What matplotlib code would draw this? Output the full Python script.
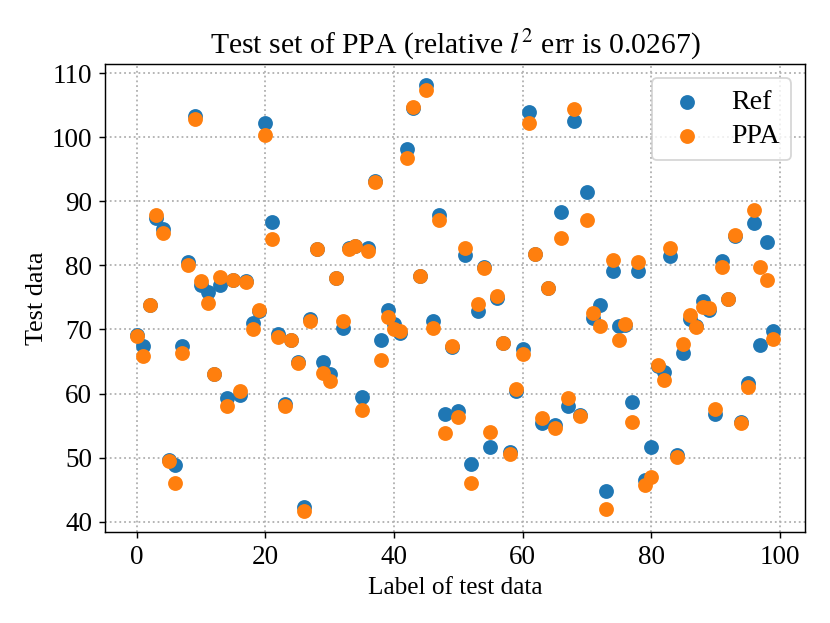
import numpy as np
import matplotlib
matplotlib.use("Agg")
import matplotlib.pyplot as plt

ref = [69.2, 67.4, 73.8, 87.4, 85.7, 49.6, 48.9, 67.4, 80.6, 103.4,
       77.0, 75.9, 63.0, 76.9, 59.3, 77.8, 59.8, 77.6, 71.0, 72.9,
       102.2, 86.8, 69.3, 58.3, 68.4, 64.9, 42.3, 71.6, 82.6, 65.0,
       63.1, 78.0, 70.3, 82.7, 83.0, 59.4, 82.7, 93.2, 68.4, 73.0,
       70.8, 69.5, 98.2, 104.5, 78.4, 108.1, 71.3, 87.9, 56.8, 67.2,
       57.2, 81.7, 49.0, 72.9, 79.7, 51.6, 74.9, 67.9, 50.9, 60.4,
       66.9, 104.0, 81.8, 55.4, 76.4, 55.1, 88.4, 58.0, 102.6, 56.7,
       91.4, 71.8, 73.8, 44.8, 79.2, 70.5, 70.7, 58.7, 79.1, 46.5,
       51.7, 64.3, 63.3, 81.4, 50.4, 66.3, 71.7, 70.5, 74.5, 73.1,
       56.8, 80.7, 74.7, 84.6, 55.6, 61.6, 86.6, 67.6, 83.6, 69.8]
ppa = [69.0, 65.8, 73.8, 87.9, 85.0, 49.4, 46.0, 66.4, 80.0, 102.9,
       77.5, 74.1, 63.1, 78.2, 58.1, 77.8, 60.4, 77.4, 70.0, 73.1,
       100.4, 84.2, 68.8, 58.0, 68.3, 64.8, 41.7, 71.4, 82.6, 63.2,
       61.9, 78.0, 71.4, 82.6, 83.0, 57.5, 82.3, 93.1, 65.2, 71.9,
       70.0, 69.7, 96.7, 104.8, 78.4, 107.4, 70.2, 87.1, 53.8, 67.5,
       56.3, 82.8, 46.1, 74.0, 79.6, 54.0, 75.2, 67.9, 50.5, 60.7,
       66.2, 102.3, 81.8, 56.2, 76.4, 54.6, 84.3, 59.3, 104.4, 56.5,
       87.1, 72.5, 70.5, 42.0, 80.9, 68.3, 70.8, 55.5, 80.5, 45.7,
       47.0, 64.5, 62.1, 82.7, 50.1, 67.7, 72.3, 70.4, 73.5, 73.3,
       57.6, 79.7, 74.8, 84.8, 55.4, 61.1, 88.6, 79.7, 77.8, 68.5]
idx = np.arange(len(ref))

plt.rcParams['font.family'] = ['Liberation Serif', 'DejaVu Serif']
plt.rcParams['mathtext.fontset'] = 'stix'

fig = plt.figure(figsize=(830/130, 623/130), dpi=130)
ax = fig.add_axes([0.1265, 0.146, 0.8435, 0.751])
ax.scatter(idx, ref, s=52, color='#1f77b4', label='Ref', zorder=3)
ax.scatter(idx, ppa, s=52, color='#ff7f0e', label='PPA', zorder=3)
ax.grid(True, linestyle=':', color='#b0b0b0', linewidth=1.0)
ax.set_axisbelow(True)
ax.set_title(r'Test set of PPA (relative $l^2$ err is 0.0267)', fontsize=16.5)
ax.set_xlabel('Label of test data', fontsize=14)
ax.set_ylabel('Test data', fontsize=14.5, labelpad=2)
ax.tick_params(labelsize=15)
ax.legend(loc='upper right', fontsize=15.5, handlelength=1.7,
          handletextpad=0.75, labelspacing=0.3, borderpad=0.4)
fig.savefig('out.png', dpi=130)
